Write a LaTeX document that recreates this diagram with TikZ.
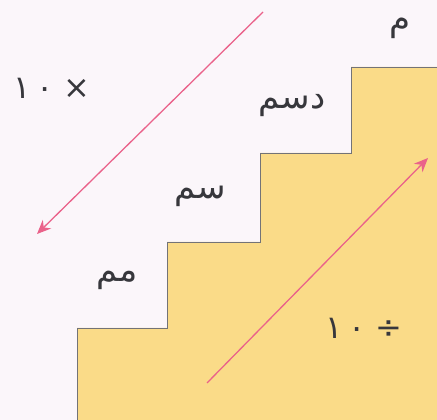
\documentclass[tikz,border=0pt]{standalone}
\usepackage{fontspec}
\newfontfamily\arabicfont[Script=Arabic]{DejaVu Sans}
\TeXXeTstate=1
\usetikzlibrary{arrows.meta}
\definecolor{stairfill}{RGB}{250,219,136}
\definecolor{paper}{RGB}{251,246,250}
\definecolor{arrowpink}{RGB}{234,98,138}
\definecolor{inkgray}{RGB}{55,55,60}

\begin{document}
\begin{tikzpicture}[
    x=1pt, y=1pt,
    >={Stealth[length=14pt,width=12pt]},
    unit/.style={font=\arabicfont\fontsize{34}{38}\selectfont, text=inkgray, inner sep=0pt},
    op/.style={font=\arabicfont\fontsize{32}{36}\selectfont, text=inkgray, inner sep=0pt},
    conv/.style={->, draw=arrowpink, line width=1.3pt}
]

% Background
\fill[paper] (0,0) rectangle (437,420);
\useasboundingbox (0,0) rectangle (437,420);

% Stairs
\fill[stairfill] (77,0) -- (77,92) -- (167,92) -- (167,178) -- (260,178)
    -- (260,267) -- (351,267) -- (351,353) -- (437,353) -- (437,0) -- cycle;
\draw[inkgray!70, line width=0.6pt] (77,0) -- (77,92) -- (167,92) -- (167,178)
    -- (260,178) -- (260,267) -- (351,267) -- (351,353) -- (437,353);

% Units
\node[unit] (mm) at (117,140) {\beginR مم\endR};
\node[unit] (cm) at (200,224) {\beginR سم\endR};
\node[unit] (dm) at (292,314) {\beginR دسم\endR};
\node[unit] (m)  at (400,392) {\beginR م\endR};

% Operations
\node[op] (times) at (52,332) {\beginR ×\ \beginL١\,٠\endL\endR};
\node[op] (divide) at (364,92) {\beginR ÷\ \beginL١\,٠\endL\endR};

% Arrows
\coordinate (downstart) at (263,408);
\coordinate (downend)   at (37,186);
\coordinate (upstart)   at (207,37);
\coordinate (upend)     at (428,262);
\draw[conv] (downstart) -- (downend);
\draw[conv] (upstart) -- (upend);

\end{tikzpicture}
\end{document}
